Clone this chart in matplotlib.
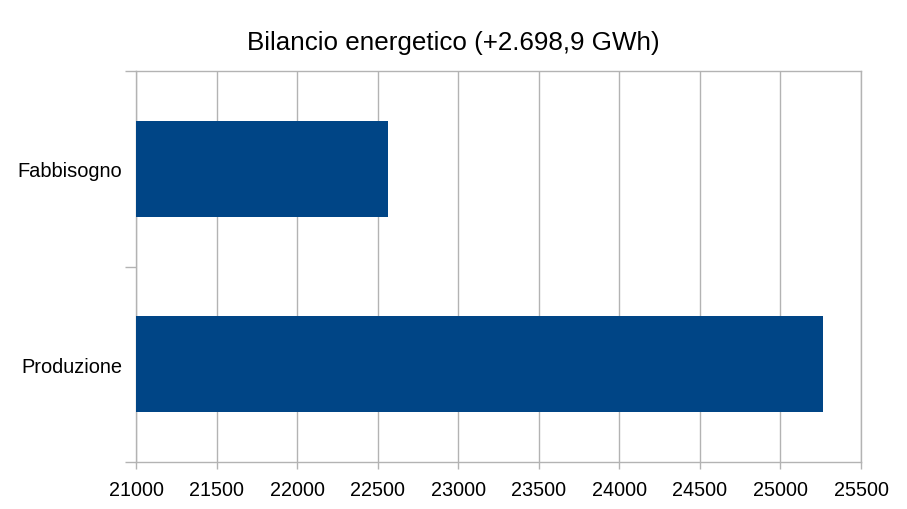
import matplotlib.pyplot as plt
import numpy as np

# Values (GWh)
CATEGORIES = ["Produzione", "Fabbisogno"]
VALUES = [25262, 22563]
X_TICKS = [21000, 21500, 22000, 22500, 23000, 23500, 24000, 24500, 25000, 25500]
TITLE = "Bilancio energetico (+2.698,9 GWh)"

BAR_COLOR = "#004586"
GRID_COLOR = "#b3b3b3"

plt.rcParams["font.family"] = ["Liberation Sans", "DejaVu Sans"]

fig = plt.figure(figsize=(9.07, 5.10), dpi=100)
ax = fig.add_axes([136 / 907, 1 - 463 / 510, (861 - 136) / 907, (463 - 72) / 510])

y = np.arange(len(CATEGORIES))
ax.barh(y, VALUES, height=0.49, left=0, color=BAR_COLOR, zorder=3)

ax.set_xlim(X_TICKS[0], X_TICKS[-1])
ax.set_ylim(-0.5, len(CATEGORIES) - 0.5)
ax.set_xticks(X_TICKS)
ax.set_xticklabels([str(t) for t in X_TICKS], fontsize=14.2)
ax.set_yticks(y)
ax.set_yticklabels(CATEGORIES, fontsize=14.4)
ax.set_yticks(np.arange(len(CATEGORIES) + 1) - 0.5, minor=True)

ax.tick_params(axis="x", length=5, width=1, color=GRID_COLOR, pad=8)
ax.tick_params(axis="y", which="major", length=0, pad=10)
ax.tick_params(axis="y", which="minor", length=8, width=1, color=GRID_COLOR)

ax.xaxis.grid(True, color=GRID_COLOR, linewidth=1, zorder=0)
ax.set_axisbelow(True)
for spine in ax.spines.values():
    spine.set_color(GRID_COLOR)
    spine.set_linewidth(1)

fig.suptitle(TITLE, fontsize=18.7, y=1 - 43 / 510, va="center")

fig.savefig("out.png", dpi=100, facecolor="white")
